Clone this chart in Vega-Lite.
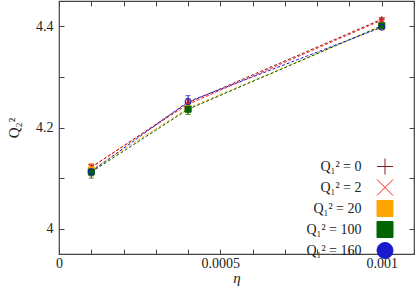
{
  "$schema": "https://vega.github.io/schema/vega-lite/v6.json",
  "width": 355,
  "height": 253,
  "autosize": {"type": "none"},
  "padding": {"left": 59, "top": 1, "right": 1, "bottom": 38},
  "config": {
    "font": "Liberation Serif",
    "view": {"stroke": "#444444", "strokeWidth": 1.2},
    "axis": {"grid": false, "domain": false, "tickColor": "#444444", "labelColor": "#222222", "titleColor": "#222222", "labelFont": "Liberation Serif", "titleFont": "Liberation Serif", "labelFontSize": 14, "titleFontSize": 15, "titleFontWeight": "normal"},
    "legend": {"title": null, "orient": "none", "legendX": 317.5, "legendY": 157, "padding": 0, "symbolSize": 256, "symbolStrokeWidth": 1, "rowPadding": 0, "labelAlign": "right", "labelOffset": -32, "labelFontSize": 14, "labelFont": "Liberation Serif", "labelColor": "#222222"}
  },
  "data": {
    "values": [
      {"eta": 0.0001, "q": 4.121, "err": 0.006, "Q1": "Q₁² = 0"},
      {"eta": 0.0004, "q": 4.249, "err": 0.008, "Q1": "Q₁² = 0"},
      {"eta": 0.001, "q": 4.414, "err": 0.003, "Q1": "Q₁² = 0"},
      {"eta": 0.0001, "q": 4.122, "err": 0.006, "Q1": "Q₁² = 2"},
      {"eta": 0.0004, "q": 4.246, "err": 0.008, "Q1": "Q₁² = 2"},
      {"eta": 0.001, "q": 4.412, "err": 0.003, "Q1": "Q₁² = 2"},
      {"eta": 0.0001, "q": 4.116, "err": 0.012, "Q1": "Q₁² = 20"},
      {"eta": 0.0004, "q": 4.238, "err": 0.012, "Q1": "Q₁² = 20"},
      {"eta": 0.001, "q": 4.400, "err": 0.004, "Q1": "Q₁² = 20"},
      {"eta": 0.0001, "q": 4.112, "err": 0.012, "Q1": "Q₁² = 100"},
      {"eta": 0.0004, "q": 4.236, "err": 0.010, "Q1": "Q₁² = 100"},
      {"eta": 0.001, "q": 4.401, "err": 0.004, "Q1": "Q₁² = 100"},
      {"eta": 0.0001, "q": 4.113, "err": 0.008, "Q1": "Q₁² = 160"},
      {"eta": 0.0004, "q": 4.251, "err": 0.012, "Q1": "Q₁² = 160"},
      {"eta": 0.001, "q": 4.398, "err": 0.004, "Q1": "Q₁² = 160"}
    ]
  },
  "layer": [
    {
      "mark": {"type": "line", "strokeDash": [3, 2], "strokeWidth": 1},
      "encoding": {
        "x": {"field": "eta", "type": "quantitative", "scale": {"domain": [0, 0.0011], "nice": false, "zero": false},
          "axis": {"title": "η", "titleFontStyle": "italic", "titlePadding": 0, "values": [0, 0.0001, 0.0002, 0.0003, 0.0004, 0.0005, 0.0006, 0.0007, 0.0008, 0.0009, 0.001, 0.0011], "labelExpr": "round(datum.value*10000) % 5 == 0 ? '' + datum.value : ''", "tickSize": -5, "labelPadding": 7, "labelFlush": false}},
        "y": {"field": "q", "type": "quantitative", "scale": {"domain": [3.95, 4.45], "nice": false, "zero": false},
          "axis": {"title": "Q₂²", "titlePadding": 14, "values": [4, 4.1, 4.2, 4.3, 4.4], "labelExpr": "round(datum.value*10) % 2 == 0 ? format(datum.value, '~g') : ''", "tickSize": -5, "labelPadding": 11}},
        "color": {"field": "Q1", "type": "nominal",
          "scale": {"domain": ["Q₁² = 0", "Q₁² = 2", "Q₁² = 20", "Q₁² = 100", "Q₁² = 160"], "range": ["#8b1a1a", "#ff2020", "#ffa500", "#006400", "#1a1acd"]},
          "legend": {
            "encode": {"symbols": {"update": {
              "shape": {"signal": "'M-2.1,0H-1.725M-1.475,0H-1.1M-0.85,0H-0.475M-0.225,0H0.15M0.4,0H0.775M1.025,0H1.4M1.65,0H2.1M-2.1,-0.4V0.4M2.1,-0.4V0.4' + (datum.index == 0 ? 'M-0.45,0H0.45M0,-0.45V0.45' : datum.index == 1 ? 'M-0.4,-0.4L0.4,0.4M-0.4,0.4L0.4,-0.4' : datum.index == 4 ? 'M0.4,0A0.4,0.4,0,1,1,-0.4,0A0.4,0.4,0,1,1,0.4,0Z' : 'M-0.4,-0.4H0.4V0.4H-0.4Z')"},
              "stroke": {"scale": "color", "field": "value"},
              "fill": {"signal": "datum.index == 2 ? '#ffa500' : datum.index == 3 ? '#006400' : 'transparent'"},
              "strokeDash": {"value": []},
              "strokeWidth": {"value": 1},
              "opacity": {"value": 1}
            }}}}}
      }
    },
    {
      "mark": {"type": "errorbar", "ticks": {"size": 5}, "thickness": 1},
      "encoding": {
        "x": {"field": "eta", "type": "quantitative",
          "axis": {"orient": "top", "title": null, "labels": false, "values": [0, 0.0001, 0.0002, 0.0003, 0.0004, 0.0005, 0.0006, 0.0007, 0.0008, 0.0009, 0.001, 0.0011], "tickSize": -5}},
        "y": {"field": "q", "type": "quantitative",
          "axis": {"orient": "right", "title": null, "labels": false, "values": [4, 4.1, 4.2, 4.3, 4.4], "tickSize": -5}},
        "yError": {"field": "err"},
        "color": {"field": "Q1", "type": "nominal",
          "legend": {
            "encode": {"symbols": {"update": {
              "shape": {"signal": "'M-2.1,0H-1.725M-1.475,0H-1.1M-0.85,0H-0.475M-0.225,0H0.15M0.4,0H0.775M1.025,0H1.4M1.65,0H2.1M-2.1,-0.4V0.4M2.1,-0.4V0.4' + (datum.index == 0 ? 'M-0.45,0H0.45M0,-0.45V0.45' : datum.index == 1 ? 'M-0.4,-0.4L0.4,0.4M-0.4,0.4L0.4,-0.4' : datum.index == 4 ? 'M0.4,0A0.4,0.4,0,1,1,-0.4,0A0.4,0.4,0,1,1,0.4,0Z' : 'M-0.4,-0.4H0.4V0.4H-0.4Z')"},
              "stroke": {"scale": "color", "field": "value"},
              "fill": {"signal": "datum.index == 2 ? '#ffa500' : datum.index == 3 ? '#006400' : 'transparent'"},
              "strokeDash": {"value": []},
              "strokeWidth": {"value": 1},
              "opacity": {"value": 1}
            }}}}}
      }
    },
    {
      "mark": {"type": "point", "filled": false, "strokeWidth": 1, "size": 36, "opacity": 1},
      "encoding": {
        "x": {"field": "eta", "type": "quantitative", "axis": null},
        "y": {"field": "q", "type": "quantitative", "axis": null},
        "stroke": {"field": "Q1", "type": "nominal", "legend": null,
          "scale": {"domain": ["Q₁² = 0", "Q₁² = 2", "Q₁² = 20", "Q₁² = 100", "Q₁² = 160"], "range": ["#8b1a1a", "#ff2020", "#ffa500", "#006400", "#1a1acd"]}},
        "shape": {"field": "Q1", "type": "nominal", "legend": null,
          "scale": {"domain": ["Q₁² = 0", "Q₁² = 2", "Q₁² = 20", "Q₁² = 100", "Q₁² = 160"], "range": ["M-1,0H1M0,-1V1", "M-1,-1L1,1M-1,1L1,-1", "square", "square", "circle"]}},
        "fill": {"field": "Q1", "type": "nominal", "legend": null,
          "scale": {"domain": ["Q₁² = 0", "Q₁² = 2", "Q₁² = 20", "Q₁² = 100", "Q₁² = 160"], "range": ["transparent", "transparent", "#ffa500", "#006400", "transparent"]}}
      }
    }
  ],
  "resolve": {"axis": {"x": "independent", "y": "independent"}}
}
